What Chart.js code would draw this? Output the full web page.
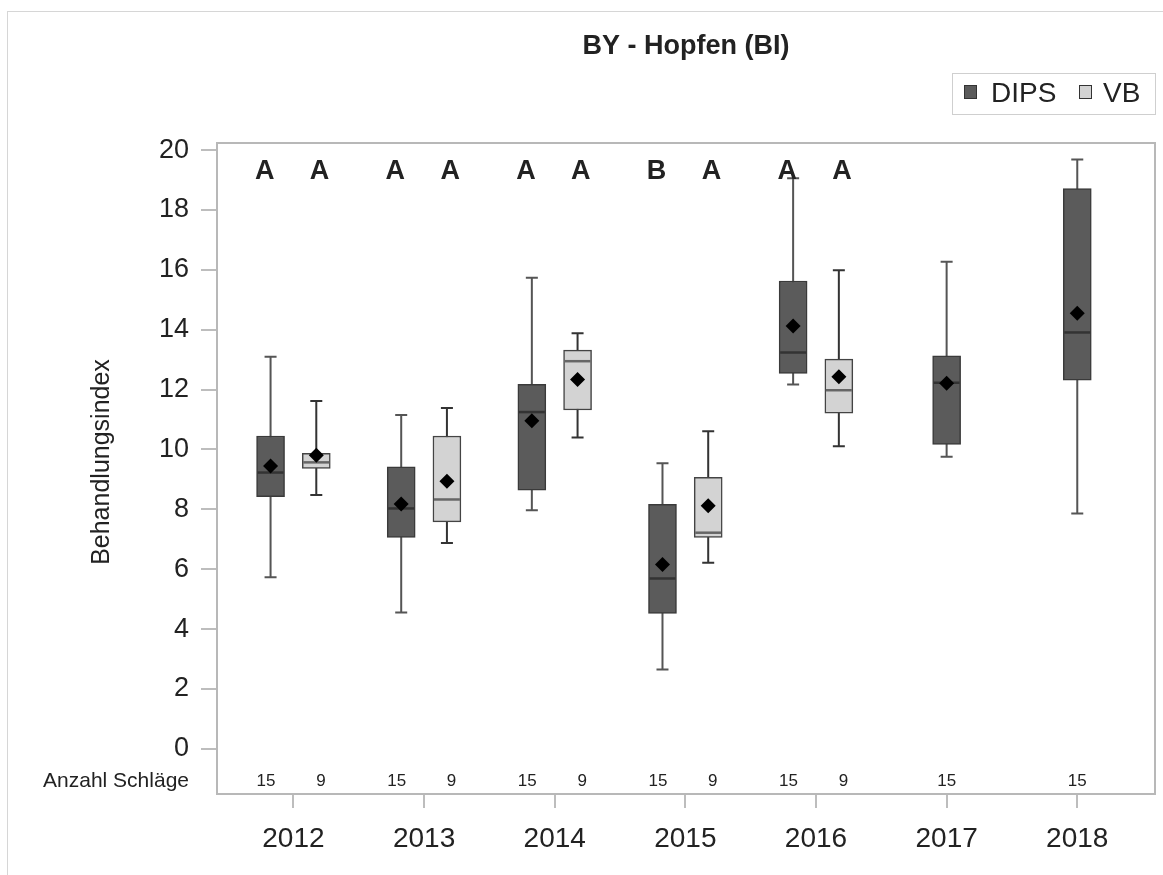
<!DOCTYPE html>
<html>
<head>
<meta charset="utf-8">
<script src="https://cdn.jsdelivr.net/npm/chart.js@4.4.1/dist/chart.umd.min.js"></script>
<style>
  body { margin: 0; background: #fff; overflow: hidden; }
  #rahmen { position: absolute; left: 7px; top: 11px; width: 1200px; height: 900px; border: 1px solid #d6d6d6; }
  #box { position: absolute; left: 0; top: 0; width: 1163px; height: 875px; }
</style>
</head>
<body>
<div id="rahmen"></div>
<div id="box"><canvas id="chart"></canvas></div>
<script>
const years = ['2012', '2013', '2014', '2015', '2016', '2017', '2018'];
const yTicks = [0, 2, 4, 6, 8, 10, 12, 14, 16, 18, 20];

// DIPS
const dipsMin  = [5.73, 4.55, 7.97, 2.65, 12.17, 9.76, 7.86];
const dipsQ1   = [8.42, 7.06, 8.64, 4.52, 12.54, 10.17, 12.32];
const dipsMed  = [9.23, 8.03, 11.25, 5.69, 13.24, 12.23, 13.91];
const dipsQ3   = [10.45, 9.42, 12.18, 8.17, 15.63, 13.13, 18.72];
const dipsMax  = [13.10, 11.15, 15.74, 9.54, 19.06, 16.27, 19.69];
const dipsMean = [9.45, 8.18, 10.96, 6.16, 14.13, 12.21, 14.55];

// VB
const vbMin  = [8.48, 6.88, 10.40, 6.22, 10.11, null, null];
const vbQ1   = [9.37, 7.58, 11.32, 7.06, 11.21, null, null];
const vbMed  = [9.57, 8.33, 12.95, 7.22, 11.98, null, null];
const vbQ3   = [9.87, 10.45, 13.32, 9.07, 13.02, null, null];
const vbMax  = [11.62, 11.39, 13.88, 10.61, 15.99, null, null];
const vbMean = [9.81, 8.94, 12.34, 8.12, 12.43, null, null];

const dipsLetters = ['A', 'A', 'A', 'B', 'A', null, null];
const vbLetters   = ['A', 'A', 'A', 'A', 'A', null, null];
const dipsN = [15, 15, 15, 15, 15, 15, 15];
const vbN   = [9, 9, 9, 9, 9, null, null];

const FONT = '"Liberation Sans", Arial, sans-serif';
const hasVB = i => vbQ1[i] !== null;
const dipsX = years.map((y, i) => hasVB(i) ? i - 0.175 : i);
const vbX = years.map((y, i) => i + 0.175);
const idx = years.map((y, i) => i);

const drawWhisker = (ctx, xs, ys, pos, lo, hi, color) => {
  const px = xs.getPixelForValue(pos);
  const top = ys.getPixelForValue(hi);
  const bot = ys.getPixelForValue(lo);
  ctx.strokeStyle = color;
  ctx.lineWidth = 2;
  ctx.beginPath();
  ctx.moveTo(px, top); ctx.lineTo(px, bot);
  ctx.moveTo(px - 6, top); ctx.lineTo(px + 6, top);
  ctx.moveTo(px - 6, bot); ctx.lineTo(px + 6, bot);
  ctx.stroke();
};

const boxExtras = {
  id: 'boxExtras',
  beforeDatasetsDraw(chart) {
    const { ctx, chartArea: a, scales: { x, y } } = chart;
    ctx.save();
    ctx.strokeStyle = '#b8b8b8';
    ctx.lineWidth = 2;
    ctx.strokeRect(a.left, a.top, a.right - a.left, a.bottom - a.top);
    idx.forEach(i => {
      drawWhisker(ctx, x, y, dipsX[i], dipsMin[i], dipsMax[i], '#555');
      if (hasVB(i)) drawWhisker(ctx, x, y, vbX[i], vbMin[i], vbMax[i], '#333');
    });
    ctx.restore();
  },
  afterDatasetDraw(chart, args) {
    if (args.index > 1) return;
    const { ctx, scales: { x, y } } = chart;
    const med = args.index === 0 ? dipsMed : vbMed;
    const pos = args.index === 0 ? dipsX : vbX;
    ctx.save();
    ctx.strokeStyle = args.index === 0 ? '#333' : '#666';
    ctx.lineWidth = 2.5;
    idx.forEach(i => {
      if (med[i] === null) return;
      const px = x.getPixelForValue(pos[i]);
      const py = y.getPixelForValue(med[i]);
      ctx.beginPath();
      ctx.moveTo(px - 13, py); ctx.lineTo(px + 13, py);
      ctx.stroke();
    });
    ctx.restore();
  },
  afterDraw(chart) {
    const { ctx, chartArea: a, scales: { x, y } } = chart;
    ctx.save();
    ctx.fillStyle = '#222';
    ctx.textAlign = 'center';
    ctx.textBaseline = 'middle';

    // Buchstaben
    ctx.font = 'bold 27px ' + FONT;
    const ly = y.getPixelForValue(19.28);
    idx.forEach(i => {
      if (dipsLetters[i]) ctx.fillText(dipsLetters[i], x.getPixelForValue(i - 0.22), ly);
      if (vbLetters[i]) ctx.fillText(vbLetters[i], x.getPixelForValue(i + 0.2), ly);
    });

    // Anzahl Schläge
    const ny = y.getPixelForValue(-1.08);
    ctx.font = '17px ' + FONT;
    idx.forEach(i => {
      const off = hasVB(i) ? 0.21 : 0;
      ctx.fillText(String(dipsN[i]), x.getPixelForValue(i - off), ny);
      if (vbN[i] !== null) ctx.fillText(String(vbN[i]), x.getPixelForValue(i + off), ny);
    });
    ctx.font = '21px ' + FONT;
    ctx.textAlign = 'right';
    ctx.fillText('Anzahl Schläge', a.left - 28, ny);

    // Titel
    ctx.textAlign = 'center';
    ctx.font = 'bold 27px ' + FONT;
    ctx.fillText('BY - Hopfen (BI)', (a.left + a.right) / 2, 47);

    // Achsentitel
    ctx.save();
    ctx.translate(102, 462);
    ctx.rotate(-Math.PI / 2);
    ctx.font = '25px ' + FONT;
    ctx.fillText('Behandlungsindex', 0, 0);
    ctx.restore();

    // Legende
    const lx = a.right - 203, lt = 73;
    ctx.strokeStyle = '#cfcfcf';
    ctx.lineWidth = 1;
    ctx.strokeRect(lx + 0.5, lt + 0.5, 203, 41);
    ctx.strokeStyle = '#333';
    ctx.fillStyle = '#5b5b5b';
    ctx.fillRect(lx + 12, lt + 12, 13, 14);
    ctx.strokeRect(lx + 12.5, lt + 12.5, 12, 13);
    ctx.fillStyle = '#d3d3d3';
    ctx.fillRect(lx + 127, lt + 12, 13, 14);
    ctx.strokeRect(lx + 127.5, lt + 12.5, 12, 13);
    ctx.fillStyle = '#222';
    ctx.textAlign = 'left';
    ctx.font = '28px ' + FONT;
    ctx.fillText('DIPS', lx + 39, lt + 21);
    ctx.fillText('VB', lx + 151, lt + 21);
    ctx.restore();
  }
};

const ctx = document.getElementById('chart').getContext('2d');

const dataDips = idx.map(i => ({ x: dipsX[i], y: [dipsQ1[i], dipsQ3[i]] }));
const dataVB = idx.filter(hasVB).map(i => ({ x: vbX[i], y: [vbQ1[i], vbQ3[i]] }));
const dataMean = idx.map(i => ({ x: dipsX[i], y: dipsMean[i] }))
  .concat(idx.filter(hasVB).map(i => ({ x: vbX[i], y: vbMean[i] })));

const chart = new Chart(ctx, {
  type: 'bar',
  data: {
    datasets: [
      {
        label: 'DIPS',
        data: dataDips,
        backgroundColor: '#5b5b5b',
        borderColor: '#3a3a3a',
        borderWidth: 1.5,
        borderSkipped: false,
        barThickness: 28,
        grouped: false,
        order: 2
      },
      {
        label: 'VB',
        data: dataVB,
        backgroundColor: '#d3d3d3',
        borderColor: '#444',
        borderWidth: 1.5,
        borderSkipped: false,
        barThickness: 28,
        grouped: false,
        order: 1
      },
      {
        type: 'scatter',
        label: 'Mittelwert',
        data: dataMean,
        pointStyle: 'rectRot',
        pointRadius: 7.5,
        backgroundColor: '#000',
        borderWidth: 0,
        order: 0
      }
    ]
  },
  options: {
    responsive: true,
    maintainAspectRatio: false,
    animation: false,
    layout: { padding: { top: 143, right: 8, left: 0, bottom: 0 } },
    plugins: {
      legend: { display: false },
      title: { display: false },
      tooltip: { enabled: false }
    },
    scales: {
      x: {
        type: 'linear',
        offset: false,
        min: -0.585,
        max: 6.595,
        afterBuildTicks: s => { s.ticks = idx.map(i => ({ value: i })); },
        afterFit: s => { s.height = 81; },
        ticks: {
          callback: (v, i) => years[i],
          font: { size: 28, family: FONT },
          color: '#222',
          padding: 14,
          maxRotation: 0,
          autoSkip: false
        },
        grid: { offset: false, drawOnChartArea: false, color: '#bdbdbd', lineWidth: 2, tickLength: 14 },
        border: { display: false }
      },
      y: {
        min: -1.51,
        max: 20.24,
        afterBuildTicks: s => { s.ticks = yTicks.map(v => ({ value: v })); },
        afterFit: s => { s.width = 217; },
        ticks: {
          font: { size: 27, family: FONT },
          color: '#222',
          padding: 12
        },
        grid: { drawOnChartArea: false, color: '#bdbdbd', lineWidth: 2, tickLength: 16 },
        border: { display: false }
      }
    }
  },
  plugins: [boxExtras]
});
</script>
</body>
</html>
